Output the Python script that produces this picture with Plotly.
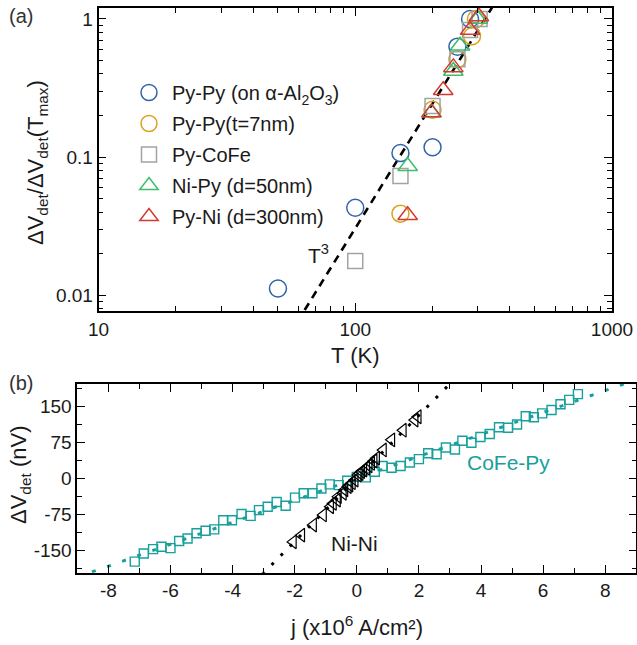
import numpy as np
import plotly.graph_objects as go

# ---------------- Panel (a) data ----------------
T_pypy_al = [50, 100, 150, 200, 250, 280]
V_pypy_al = [0.0112, 0.043, 0.107, 0.118, 0.63, 1.0]

T_pypy_t7 = [150, 200, 250, 285, 295]
V_pypy_t7 = [0.039, 0.22, 0.51, 0.75, 1.0]

T_pycofe = [100, 150, 200, 250, 280, 305]
V_pycofe = [0.0177, 0.073, 0.234, 0.51, 0.83, 1.0]

T_nipy = [160, 198, 241, 256, 300]
V_nipy = [0.086, 0.21, 0.42, 0.64, 1.0]

T_pyni = [160, 198, 220, 241, 280, 303]
V_pyni = [0.038, 0.21, 0.305, 0.446, 0.83, 1.04]

T3_T0 = 320.0          # T^3 law reference temperature
T_fit = [40, 420]

x_a_ticks = [10, 100, 1000]
x_a_labels = ["10", "100", "1000"]
y_a_ticks = [0.01, 0.1, 1]
y_a_labels = ["0.01", "0.1", "1"]

# ---------------- Panel (b) data ----------------
j_cofepy = [-7.15, -6.86, -6.56, -6.29, -6.0, -5.72, -5.45, -5.16, -4.87, -4.59,
            -4.30, -4.02, -3.71, -3.42, -3.15, -2.87, -2.58, -2.29, -1.99, -1.71,
            -1.43, -1.14, -0.87, -0.58, -0.31, 0.0, 0.29, 0.58, 0.83, 1.12,
            1.41, 1.71, 2.0, 2.30, 2.57, 2.87, 3.16, 3.40, 3.69, 3.98,
            4.28, 4.58, 4.87, 5.16, 5.44, 5.70, 5.97, 6.27, 6.56, 6.84, 7.12]
V_cofepy = [-173, -156, -147, -142, -145, -130, -125, -114, -109, -106,
            -87, -87, -74, -78, -66, -59, -49, -57, -40, -31,
            -31, -21, -12.5, -14, -5, 3, 2, 13.7, 25.6, 22,
            25.6, 33, 40, 52, 50, 64, 60, 78, 74, 86,
            92, 106, 105, 112, 129, 127, 135, 142, 154, 163, 175]

j_nini = [-2.05, -1.78, -1.40, -1.08, -0.85, -0.76, -0.63, -0.60, -0.44, -0.39,
          -0.28, -0.23, -0.15, -0.06, 0.04, 0.10, 0.15, 0.22, 0.31, 0.39,
          0.47, 0.55, 0.63, 0.85, 1.12, 1.49, 1.87, 1.97]
V_nini = [-132, -118, -97, -76, -59, -52, -45, -38, -31, -24,
          -17, -14, -9, -3.5, 7, 10, 14, 17, 21, 26,
          31, 36, 42, 59, 80, 100, 121, 128]

slope_cofepy = 22.8   # nV per 1e6 A/cm^2
slope_nini = 65.5
j_fit = [-9.5, 9.5]

x_b_ticks = [-8, -6, -4, -2, 0, 2, 4, 6, 8]
x_b_labels = ["-8", "-6", "-4", "-2", "0", "2", "4", "6", "8"]
y_b_ticks = [-150, -75, 0, 75, 150]
y_b_labels = ["-150", "-75", "0", "75", "150"]

# ---------------- styles ----------------
FONT = "Liberation Sans, Arial, sans-serif"
TXT = "#1a1a1a"
C_BLUE = "#2f64a8"
C_ORANGE = "#d9a21b"
C_GRAY = "#a3a3a3"
C_GREEN = "#3cbf6a"
C_RED = "#d43a32"
C_TEAL = "#17a09c"

fig = go.Figure()

# T^3 line
Tl = np.geomspace(T_fit[0], T_fit[1], 50)
fig.add_trace(go.Scatter(x=Tl, y=(Tl / T3_T0) ** 3, mode="lines",
                         line=dict(color="black", width=2.6, dash="8px,6px"),
                         showlegend=False, hoverinfo="skip", xaxis="x", yaxis="y"))

series_a = [
    ("Py-Py (on α-Al<sub>2</sub>O<sub>3</sub>)", T_pypy_al, V_pypy_al, "circle-open", C_BLUE, 17),
    ("Py-Py(t=7nm)", T_pypy_t7, V_pypy_t7, "circle-open", C_ORANGE, 17),
    ("Py-CoFe", T_pycofe, V_pycofe, "square-open", C_GRAY, 15),
    ("Ni-Py (d=50nm)", T_nipy, V_nipy, "triangle-up-open", C_GREEN, 17),
    ("Py-Ni (d=300nm)", T_pyni, V_pyni, "triangle-up-open", C_RED, 17),
]
for i, (name, xs, ys, sym, col, sz) in enumerate(series_a):
    fig.add_trace(go.Scatter(x=xs, y=ys, mode="markers", name=name, legendgroup=f"g{i}",
                             marker=dict(symbol=sym, size=sz, color=col, line=dict(width=1.5, color=col)),
                             xaxis="x", yaxis="y"))

# Panel (b)
jf = np.linspace(j_fit[0], j_fit[1], 2)
fig.add_trace(go.Scatter(x=jf, y=slope_cofepy * jf, mode="lines",
                         line=dict(color=C_TEAL, width=3, dash="4px,12px"),
                         showlegend=False, hoverinfo="skip", xaxis="x2", yaxis="y2"))
fig.add_trace(go.Scatter(x=jf, y=slope_nini * jf, mode="lines",
                         line=dict(color="black", width=3, dash="3px,10px"),
                         showlegend=False, hoverinfo="skip", xaxis="x2", yaxis="y2"))
fig.add_trace(go.Scatter(x=j_cofepy, y=V_cofepy, mode="markers", showlegend=False,
                         marker=dict(symbol="square-open", size=9, color=C_TEAL, line=dict(width=1.4, color=C_TEAL)),
                         xaxis="x2", yaxis="y2"))
fig.add_trace(go.Scatter(x=j_nini, y=V_nini, mode="markers", showlegend=False,
                         marker=dict(symbol="triangle-left-open", size=12, color="black", line=dict(width=1.2, color="black")),
                         xaxis="x2", yaxis="y2"))

W, H = 637, 645
def px(x):
    return x / W
def py(y):
    return 1 - y / H

axis_common = dict(showline=True, linecolor="black", linewidth=1.6, mirror="allticks",
                   ticks="inside", ticklen=8, tickwidth=1.4, tickcolor="black",
                   showgrid=False, zeroline=False, automargin=False,
                   tickfont=dict(family=FONT, size=19, color=TXT))
minor_common = dict(ticks="inside", ticklen=5, tickwidth=1.2, tickcolor="black", showgrid=False)

fig.update_layout(
    width=W, height=H, margin=dict(l=0, r=0, t=0, b=0, autoexpand=False),
    paper_bgcolor="white", plot_bgcolor="white",
    font=dict(family=FONT, color=TXT),
    xaxis=dict(axis_common, type="log", range=[1, 3], domain=[px(98.5), px(612)], anchor="y",
               tickvals=x_a_ticks, ticktext=x_a_labels, minor=dict(minor_common, dtick="D1")),
    yaxis=dict(axis_common, type="log", range=[np.log10(0.0077), 0.079], domain=[py(311), py(8)], anchor="x",
               tickvals=y_a_ticks, ticktext=y_a_labels, minor=dict(minor_common, dtick="D1")),
    xaxis2=dict(axis_common, range=[-9, 9], domain=[px(77.3), px(636.3)], anchor="y2",
                tickvals=x_b_ticks, ticktext=x_b_labels, minor=dict(minor_common, dtick=1, tick0=0)),
    yaxis2=dict(axis_common, range=[-196, 196], domain=[py(572.7), py(384)], anchor="x2",
                tickvals=y_b_ticks, ticktext=y_b_labels, minor=dict(minor_common, dtick=37.5, tick0=0)),
    legend=dict(x=px(126), y=py(73), xanchor="left", yanchor="top",
                bgcolor="rgba(0,0,0,0)", font=dict(family=FONT, size=20, color=TXT),
                itemsizing="trace", tracegroupgap=2, itemwidth=36),
)

ann = [
    dict(text="(a)", x=px(21), y=py(16), font=dict(size=20, color="#333")),
    dict(text="(b)", x=px(21), y=py(383), font=dict(size=20, color="#333")),
    dict(text="ΔV<sub>det</sub>/ΔV<sub>det</sub>(T<sub>max</sub>)", x=px(37), y=py(163), textangle=-90,
         font=dict(size=22, color=TXT)),
    dict(text="T (K)", x=px(355), y=py(355), font=dict(size=22, color=TXT)),
    dict(text="ΔV<sub>det</sub> (nV)", x=px(20), y=py(475), textangle=-90, font=dict(size=22, color=TXT)),
    dict(text="j (x10<sup>6</sup> A/cm²)", x=px(356), y=py(626), font=dict(size=22, color=TXT)),
    dict(text="T<sup>3</sup>", x=px(318), y=py(254), font=dict(size=21, color=TXT)),
    dict(text="CoFe-Py", x=px(508), y=py(462), font=dict(size=21, color=C_TEAL)),
    dict(text="Ni-Ni", x=px(354), y=py(543), font=dict(size=21, color=TXT)),
]
for a in ann:
    a.update(xref="paper", yref="paper", showarrow=False, xanchor="center", yanchor="middle")
    a["font"]["family"] = FONT
fig.update_layout(annotations=ann)

fig.write_html("out.html", config={"displayModeBar": False},
               post_script="document.body.style.margin='0';document.body.style.overflow='hidden';")
